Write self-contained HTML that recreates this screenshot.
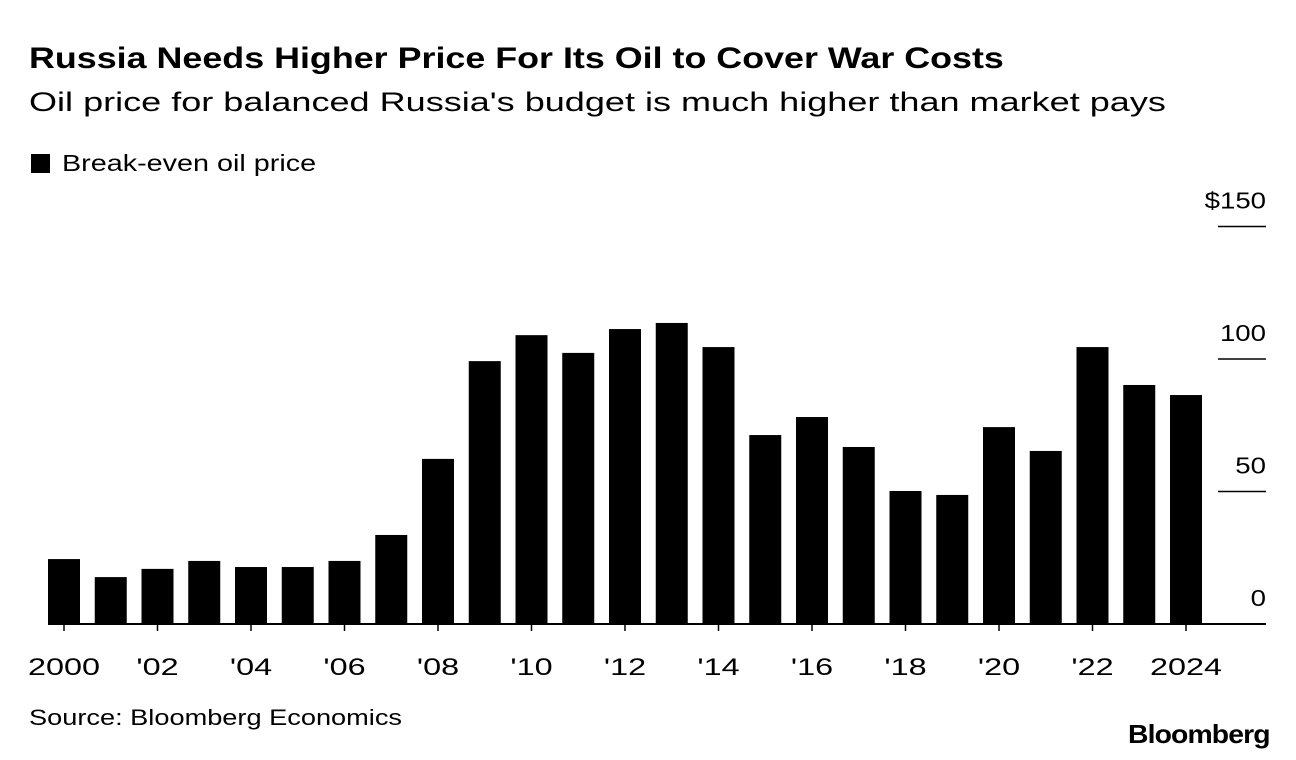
<!DOCTYPE html>
<html><head><meta charset="utf-8"><style>
body{margin:0;background:#fff;font-family:"Liberation Sans",Arial,sans-serif;}
#wrap{position:relative;width:1296px;height:760px;overflow:hidden;}
.t{position:absolute;white-space:nowrap;color:#000;transform-origin:0 0;}
</style></head><body>
<div id="wrap">
<div class="t" style="left:29px;top:42px;font-size:30px;font-weight:bold;transform:scaleX(1.195);">Russia Needs Higher Price For Its Oil to Cover War Costs</div>
<div class="t" style="left:29px;top:87px;font-size:27px;transform:scaleX(1.335);">Oil price for balanced Russia's budget is much higher than market pays</div>
<div class="t" style="left:31px;top:150px;font-size:23px;"><span style="display:inline-block;width:19px;height:19px;background:#000;margin-right:12px;vertical-align:-2px;"></span><span style="display:inline-block;transform:scaleX(1.25);transform-origin:0 0;">Break-even oil price</span></div>
<svg id="svg" width="1296" height="760" style="position:absolute;left:0;top:0"></svg>
<div class="t" style="left:29px;top:705px;font-size:22px;transform:scaleX(1.235);">Source: Bloomberg Economics</div>
<div class="t" style="left:1128px;top:719px;font-size:26px;font-weight:bold;letter-spacing:-0.8px;transform:scaleX(1.09);">Bloomberg</div>
</div>
<script>
const years=[2000,2001,2002,2003,2004,2005,2006,2007,2008,2009,2010,2011,2012,2013,2014,2015,2016,2017,2018,2019,2020,2021,2022,2023,2024];
const values=[24.5,17.7,20.8,23.8,21.5,21.5,23.8,33.6,62.3,99.2,109,102.3,111.3,113.6,104.5,71.3,78.1,66.8,50.2,48.7,74.3,65.3,104.5,90.2,86.4];
const yTicks=[0,50,100,150];
const yTickLabels=["0","50","100","$150"];
const xLabelYears=[2000,2002,2004,2006,2008,2010,2012,2014,2016,2018,2020,2022,2024];
const xLabels=["2000","'02","'04","'06","'08","'10","'12","'14","'16","'18","'20","'22","2024"];
const NS="http://www.w3.org/2000/svg";
const svg=document.getElementById('svg');
const y=v=>624-v*2.65;
const x=yr=>64+(yr-2000)*46.75;
function mk(tag,attrs,parent){const e=document.createElementNS(NS,tag);for(const k in attrs)e.setAttribute(k,attrs[k]);(parent||svg).appendChild(e);return e;}
years.forEach((yr,i)=>{
 const r=mk('rect',{x:x(yr)-16,y:y(values[i]),width:32,height:y(0)-y(values[i]),fill:'#000'});
 
 
});
yTicks.forEach((v,i)=>{
 if(v>0){const l=mk('line',{x1:1218,x2:1266,y1:y(v),y2:y(v),stroke:'#000','stroke-width':1.5});
 
 }
 const g=mk('g',{transform:'translate(1266,'+(y(v)-18)+') scale(1.2,1)'});
 const t=mk('text',{x:0,y:0,'text-anchor':'end','font-size':23,'font-family':'Liberation Sans, Arial, sans-serif'},g);
 t.textContent=yTickLabels[i];
 
 
});
const ax=mk('line',{x1:48,x2:1266,y1:y(0),y2:y(0),stroke:'#000','stroke-width':2});


xLabelYears.forEach((yr,i)=>{
 const tk=mk('line',{x1:x(yr),x2:x(yr),y1:y(0),y2:y(0)+7,stroke:'#000','stroke-width':1.5});
 
 
 const g=mk('g',{transform:'translate('+x(yr)+',675) scale(1.35,1)'});
 const t=mk('text',{x:0,y:0,'text-anchor':'middle','font-size':24,'font-family':'Liberation Sans, Arial, sans-serif'},g);
 t.textContent=xLabels[i];
 
 
});
</script>
</body></html>
